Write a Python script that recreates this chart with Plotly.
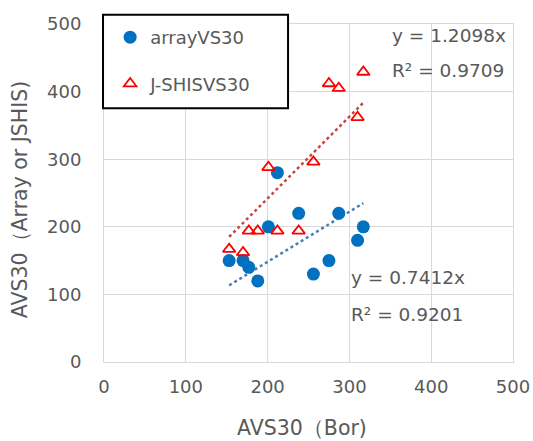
import plotly.graph_objects as go

# Borehole AVS30 (x) against array / J-SHIS AVS30 (y)
bor_vs30 = [153, 170, 177, 188, 201, 212, 238, 256, 275, 287, 310, 317]
array_vs30 = [150, 150, 140, 120, 200, 280, 220, 130, 150, 220, 180, 200]
jshis_vs30 = [167, 162, 194, 194, 288, 194, 194, 296, 412, 405, 362, 429]

# Regression through origin (stated coefficients)
slope_jshis, r2_jshis = 1.2098, 0.9709
slope_array, r2_array = 0.7412, 0.9201

axis_ticks = [0, 100, 200, 300, 400, 500]

GRAY_TXT = "#595959"
GRID = "#d9d9d9"
FONT = "DejaVu Sans"

x_lo, x_hi = min(bor_vs30), max(bor_vs30)

fig = go.Figure()

fig.add_trace(go.Scatter(
    x=[x_lo, x_hi], y=[slope_array * x_lo, slope_array * x_hi],
    mode="lines", line=dict(color="#4a7ebb", width=2.5, dash="dot"),
    showlegend=False, hoverinfo="skip"))
fig.add_trace(go.Scatter(
    x=[x_lo, x_hi], y=[slope_jshis * x_lo, slope_jshis * x_hi],
    mode="lines", line=dict(color="#be4b48", width=2.5, dash="dot"),
    showlegend=False, hoverinfo="skip"))

fig.add_trace(go.Scatter(
    x=bor_vs30, y=array_vs30, mode="markers", name="arrayVS30",
    legendgroup="a",
    marker=dict(symbol="circle", size=13, color="#0070c0")))
fig.add_trace(go.Scatter(
    x=bor_vs30, y=jshis_vs30, mode="markers", name="J-SHISVS30",
    legendgroup="b",
    marker=dict(symbol="triangle-up-open", size=11, color="#ff0000",
                line=dict(width=1.8, color="#ff0000"))))

axis_common = dict(
    range=[0, 500], tickvals=axis_ticks, ticktext=[str(t) for t in axis_ticks],
    showgrid=True, gridcolor=GRID, gridwidth=1,
    showline=True, linecolor=GRID, linewidth=1, mirror=True,
    zeroline=False, ticks="", automargin=False,
    tickfont=dict(family=FONT, size=18, color=GRAY_TXT),
)

fig.update_xaxes(**axis_common, ticklabelstandoff=8)
fig.update_yaxes(**axis_common, ticklabelstandoff=18)

title_font = dict(family=FONT, size=20.5, color=GRAY_TXT)
fig.add_annotation(text="AVS30（Bor)", xref="paper", yref="paper",
                   x=0.484, y=-0.196, xanchor="center", yanchor="middle",
                   showarrow=False, font=title_font)
fig.add_annotation(text="AVS30（Array or JSHIS)", xref="paper", yref="paper",
                   x=-0.205, y=0.482, xanchor="center", yanchor="middle",
                   textangle=-90, showarrow=False, font=title_font)

# Legend frame
fig.add_shape(type="rect", xref="paper", yref="paper",
              x0=-0.0024, x1=0.45, y0=0.751, y1=1.027,
              line=dict(color="black", width=2), fillcolor="white",
              layer="above")

ann_font = dict(family=FONT, size=18.5, color=GRAY_TXT)
for text, xp, yp in [
    (f"y = {slope_jshis}x", 0.699, 0.967),
    (f"R² = {r2_jshis}", 0.699, 0.861),
    (f"y = {slope_array}x", 0.6, 0.251),
    (f"R² = {r2_array}", 0.6, 0.142),
]:
    fig.add_annotation(text=text, xref="paper", yref="paper", x=xp, y=yp,
                       xanchor="left", yanchor="middle", showarrow=False,
                       font=ann_font)

fig.update_layout(
    width=533, height=441,
    margin=dict(l=104, r=20, t=24, b=79),
    paper_bgcolor="white", plot_bgcolor="white",
    showlegend=True,
    legend=dict(x=0.015, y=1.015, xanchor="left", yanchor="top",
                bgcolor="rgba(0,0,0,0)", borderwidth=0,
                font=dict(family=FONT, size=18, color=GRAY_TXT),
                traceorder="grouped", tracegroupgap=20, itemwidth=30),
)

fig.write_html("out.html")
